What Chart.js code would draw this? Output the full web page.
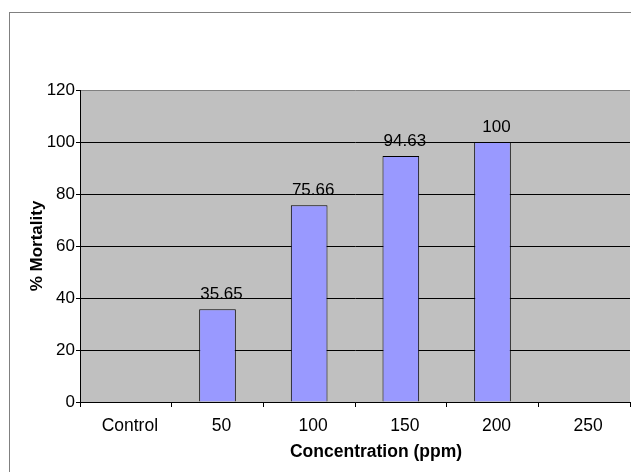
<!DOCTYPE html>
<html>
<head>
<meta charset="utf-8">
<script src="https://cdn.jsdelivr.net/npm/chart.js@4/dist/chart.umd.min.js"></script>
<style>
  html, body { margin: 0; padding: 0; background: #ffffff; }
  #wrap { width: 631px; height: 472px; position: relative; }
</style>
</head>
<body>
<div id="wrap"><canvas id="c" width="631" height="472"></canvas></div>
<script>
const categories = ['Control', '50', '100', '150', '200', '250'];
const mortality = [null, 35.65, 75.66, 94.63, 100, null];
const yTicks = [0, 20, 40, 60, 80, 100, 120];
const xTitle = 'Concentration (ppm)';
const yTitle = '% Mortality';

const FONT = "'Liberation Sans', Arial, sans-serif";

const framePlugin = {
  id: 'frame',
  beforeDraw(chart) {
    const ctx = chart.ctx;
    const a = chart.chartArea;
    ctx.save();
    ctx.fillStyle = '#ffffff';
    ctx.fillRect(0, 0, chart.width, chart.height);
    ctx.strokeStyle = '#808080';
    ctx.lineWidth = 1;
    ctx.strokeRect(9.5, 12.5, 2000, 2000);
    ctx.fillStyle = '#c0c0c0';
    ctx.fillRect(a.left, a.top, a.right - a.left, a.bottom - a.top);
    ctx.restore();
  },
  afterDraw(chart) {
    const ctx = chart.ctx;
    const a = chart.chartArea;
    ctx.save();
    ctx.font = 'bold 17.5px ' + FONT;
    ctx.fillStyle = '#000000';
    ctx.textAlign = 'center';
    ctx.textBaseline = 'alphabetic';
    ctx.fillText(xTitle, (a.left + a.right) / 2 + 21, 457);
    ctx.restore();
  }
};

const labelPlugin = {
  id: 'barLabels',
  afterDatasetsDraw(chart) {
    const ctx = chart.ctx;
    const meta = chart.getDatasetMeta(0);
    const data = chart.data.datasets[0].data;
    ctx.save();
    ctx.font = '17px ' + FONT;
    ctx.fillStyle = '#000000';
    ctx.textAlign = 'center';
    ctx.textBaseline = 'alphabetic';
    meta.data.forEach((bar, i) => {
      const v = data[i];
      if (v === null || v === undefined) return;
      ctx.fillText(String(v), bar.x + 4, bar.y - 10);
    });
    ctx.restore();
  }
};

new Chart(document.getElementById('c'), {
  type: 'bar',
  data: {
    labels: categories,
    datasets: [{
      data: mortality,
      backgroundColor: '#9999ff',
      borderColor: '#000000',
      borderWidth: 1,
      barPercentage: 0.4,
      categoryPercentage: 1.0
    }]
  },
  options: {
    responsive: false,
    animation: false,
    devicePixelRatio: 1,
    layout: { padding: { top: 90, right: 1, left: 0, bottom: 0 } },
    plugins: {
      legend: { display: false },
      tooltip: { enabled: false }
    },
    scales: {
      x: {
        afterFit(scale) { scale.height = 70; },
        grid: {
          offset: true,
          drawOnChartArea: false,
          drawTicks: true,
          tickLength: 5,
          color: '#000000',
          tickColor: '#000000'
        },
        border: { display: true, color: '#000000' },
        ticks: {
          color: '#000000',
          font: { family: FONT, size: 17.5 },
          padding: 9,
          labelOffset: 4,
          maxRotation: 0,
          autoSkip: false
        },
        title: { display: false }
      },
      y: {
        min: 0,
        max: 120,
        afterFit(scale) { scale.width = 80; },
        afterBuildTicks(scale) { scale.ticks = yTicks.map(v => ({ value: v })); },
        grid: {
          drawTicks: true,
          tickLength: 4,
          color: (c) => (c.tick && c.tick.value === 120) ? '#808080' : '#000000',
          tickColor: '#000000'
        },
        border: { display: true, color: '#000000' },
        ticks: {
          color: '#000000',
          font: { family: FONT, size: 17 },
          padding: 1
        },
        title: {
          display: true,
          text: yTitle,
          color: '#000000',
          font: { family: FONT, size: 17, weight: 'bold' },
          padding: { top: 27, bottom: 0 }
        }
      }
    }
  },
  plugins: [framePlugin, labelPlugin]
});
</script>
</body>
</html>
